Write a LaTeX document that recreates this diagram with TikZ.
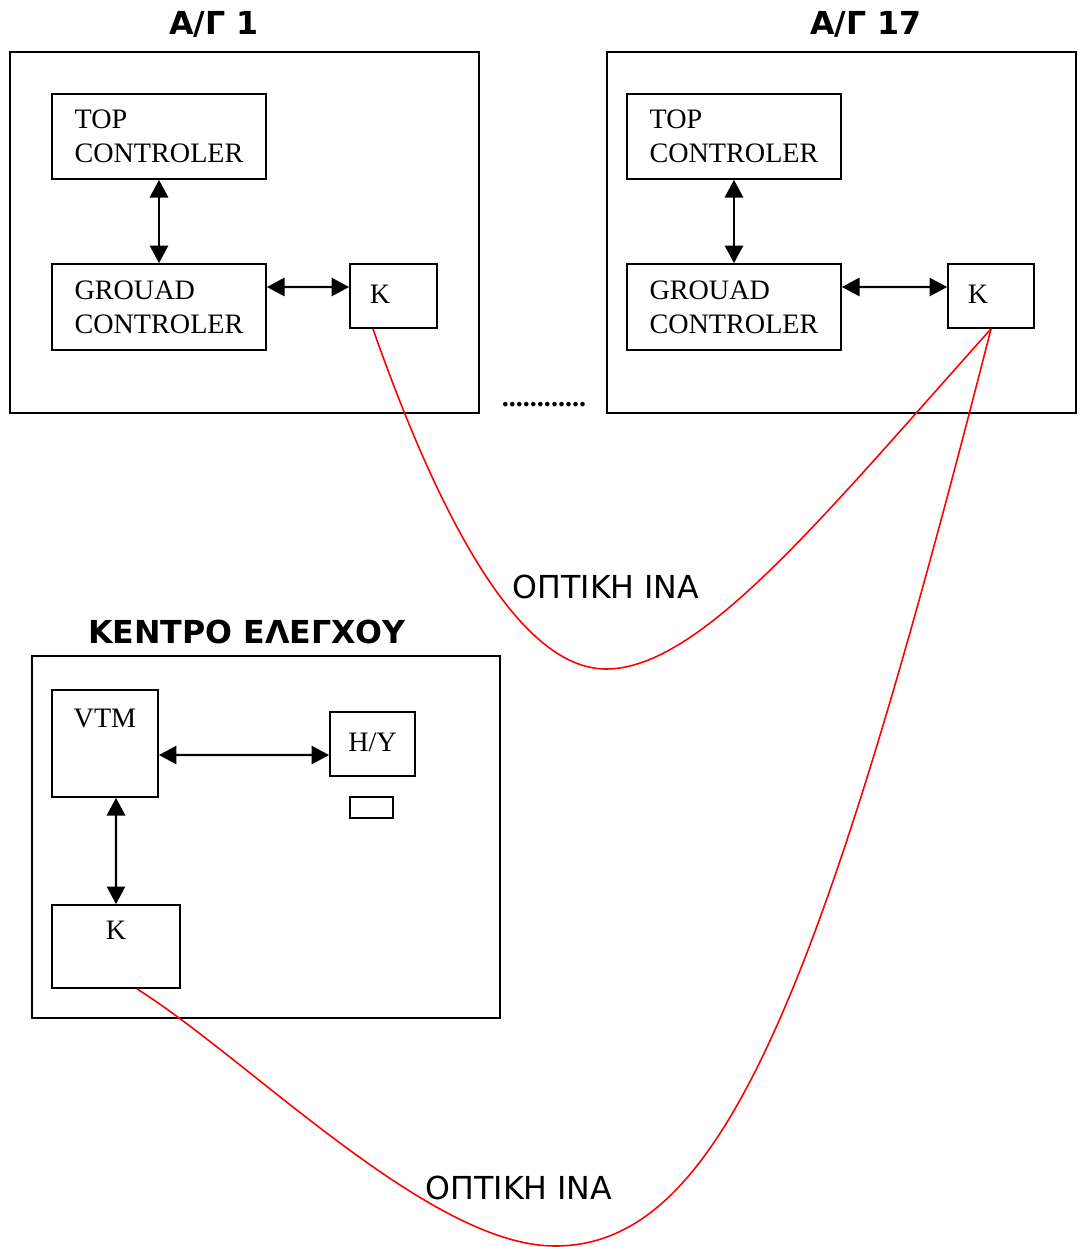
\documentclass[tikz,border=0pt]{standalone}
\usepackage{fontspec}
\setmainfont{Liberation Serif}
\newfontfamily\grfont{DejaVu Sans}
\usetikzlibrary{arrows.meta, positioning}

\begin{document}
\begin{tikzpicture}[
    x=0.01cm, y=-0.01cm,
    box/.style={rectangle, draw, line width=0.5pt, inner sep=0pt, align=left, font=\fontsize{8}{9.6}\selectfont},
    site/.style={rectangle, draw, line width=0.6pt, minimum width=4.69cm, minimum height=3.61cm},
    sitename/.style={font=\grfont\bfseries\fontsize{9}{11}\selectfont, anchor=base},
    fibre/.style={font=\grfont\fontsize{9}{11}\selectfont, anchor=base},
    corner/.style={anchor=north west, inner sep=0pt, xshift=0.2cm, yshift=-0.21cm},
    upper/.style={anchor=north, inner sep=0pt, yshift=-0.19cm},
    biarr/.style={{Triangle[length=5pt,width=5.2pt]}-{Triangle[length=5pt,width=5.2pt]}, line width=0.6pt},
    cable/.style={red, line width=0.45pt}
]
\useasboundingbox (0,0) rectangle (1079,1247);

% --- A/G 1 ---
\node[sitename] (t1) at (214,34) {Α/Γ 1};
\node[site] (ag1) at (244.5,232.5) {};
\node[box, minimum width=2.14cm, minimum height=0.85cm] (top1) at (159,136.5) {TOP\\CONTROLER};
\node[box, minimum width=2.14cm, minimum height=0.86cm] (gnd1) at (159,307) {GROUAD\\CONTROLER};
\node[box, minimum width=0.87cm, minimum height=0.64cm, label={[corner, font=\fontsize{8}{9.6}\selectfont]north west:K}] (k1) at (393.5,296) {};
\draw[biarr] (top1) -- (gnd1);
\draw[biarr] ([yshift=0.2cm]gnd1.east) -- ([yshift=0.09cm]k1.west);

\node[font=\bfseries\fontsize{8}{9.6}\selectfont, anchor=base] (dots) at (544,406) {............};

% --- A/G 17 ---
\node[sitename] (t17) at (866,34) {Α/Γ 17};
\node[site] (ag17) at (841.5,232.5) {};
\node[box, minimum width=2.14cm, minimum height=0.85cm] (top17) at (734,136.5) {TOP\\CONTROLER};
\node[box, minimum width=2.14cm, minimum height=0.86cm] (gnd17) at (734,307) {GROUAD\\CONTROLER};
\node[box, minimum width=0.86cm, minimum height=0.64cm, label={[corner, font=\fontsize{8}{9.6}\selectfont]north west:K}] (k17) at (991,296) {};
\draw[biarr] (top17) -- (gnd17);
\draw[biarr] ([yshift=0.2cm]gnd17.east) -- ([yshift=0.09cm]k17.west);

% --- control centre ---
\node[sitename] (tc) at (247,643) {ΚΕΝΤΡΟ ΕΛΕΓΧΟΥ};
\node[site, minimum width=4.68cm, minimum height=3.62cm] (kentro) at (266,837) {};
\node[box, minimum width=1.06cm, minimum height=1.07cm, label={[upper, font=\fontsize{8}{9.6}\selectfont]north:VTM}] (vtm) at (105,743.5) {};
\node[box, minimum width=0.85cm, minimum height=0.64cm] (hy) at (372.5,744) {\raisebox{0.04cm}{H/Y}};
\node[box, minimum width=0.43cm, minimum height=0.21cm] (scr) at (371.5,807.5) {};
\node[box, minimum width=1.28cm, minimum height=0.83cm, label={[upper, yshift=0.03cm, font=\fontsize{8}{9.6}\selectfont]north:K}] (kc) at (116,946.5) {};
\draw[biarr] ([yshift=-0.115cm]vtm.east) -- ([yshift=-0.11cm]hy.west);
\draw[biarr] ([xshift=0.11cm]vtm.south) -- (kc.north);

% --- optical fibre ---
\draw[cable] ([xshift=-0.205cm]k1.south) .. controls (440,520) and (520,669) .. (606,669)
    .. controls (700,669) and (820,520) .. (k17.south);
\draw[cable] ([xshift=0.21cm]kc.south) .. controls (250,1060) and (430,1246) .. (555,1246)
    .. controls (720,1246) and (820,1000) .. (k17.south);
\node[fibre] (f1) at (606,598) {ΟΠΤΙΚΗ ΙΝΑ};
\node[fibre] (f2) at (519,1199) {ΟΠΤΙΚΗ ΙΝΑ};
\end{tikzpicture}
\end{document}
